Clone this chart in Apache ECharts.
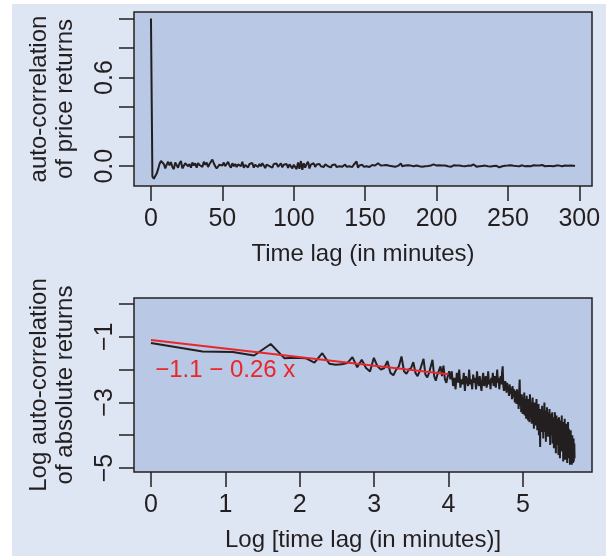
<!DOCTYPE html>
<html>
<head>
<meta charset="utf-8">
<script src="https://cdn.jsdelivr.net/npm/echarts@6/dist/echarts.min.js"></script>
<style>
  html, body { margin: 0; padding: 0; background: #fff; }
  #chart { width: 611px; height: 556px; }
</style>
</head>
<body>
<div id="chart"></div>
<script>
// top panel: auto-correlation of price returns, lag 0..297 (minutes)
var priceAcf = [
  1.0, -0.07, -0.085, -0.08, -0.05, -0.02, 0.015, 0.035, 0.04, 0.015,
  -0.015, 0.01, 0.03, 0.005, 0.028, -0.005, -0.02, 0.025, 0.03, -0.01,
  0.02, 0.035, -0.015, -0.025, 0.02, 0.03, 0.0, 0.015, -0.01, 0.025,
  0.005, 0.02, -0.01, 0.022, 0.008, 0.018, -0.005, 0.03, 0.01, 0.025,
  -0.005, 0.015, 0.028, 0.045, 0.02, 0.0, -0.015, -0.02, 0.01, 0.02,
  0.005, 0.025, 0.0, 0.015, 0.03, 0.005, -0.01, 0.02, 0.0, 0.015,
  -0.005, 0.012, 0.025, 0.0, 0.03, -0.01, 0.008, 0.02, -0.008, 0.015,
  0.005, 0.022, -0.01, 0.01, 0.018, -0.005, 0.015, 0.0, 0.02, 0.005,
  -0.012, 0.01, 0.02, 0.0, 0.012, -0.01, 0.015, 0.005, 0.018, -0.005,
  0.008, 0.02, -0.008, 0.01, 0.0, 0.015, -0.012, 0.012, 0.02, -0.015,
  0.01, 0.02, -0.02, 0.025, -0.018, 0.035, -0.025, 0.02, -0.01, 0.015,
  0.03, -0.015, 0.01, 0.0, 0.02, -0.005, 0.012, 0.005, 0.015, 0.0,
  0.01, -0.005, 0.012, 0.005, 0.0, 0.01, -0.008, 0.008, 0.003, 0.012,
  -0.005, 0.008, 0.0, 0.01, -0.003, 0.006, 0.012, -0.004, 0.005, 0.0,
  0.008, -0.006, 0.01, 0.004, 0.032, -0.01, 0.005, 0.0, 0.01, -0.004,
  0.006, 0.0, 0.01, -0.005, 0.004, 0.008, -0.004, 0.005, 0.01, 0.02,
  0.028, 0.005, -0.003, 0.006, 0.0, 0.008, -0.005, 0.003, 0.006, 0.0,
  0.004, -0.004, 0.006, 0.002, 0.012, 0.018, 0.0, -0.003, 0.005, 0.002,
  0.006, -0.002, 0.004, 0.008, 0.0, -0.004, 0.005, 0.003, 0.0, 0.006,
  -0.003, 0.004, 0.0, 0.006, 0.002, -0.004, 0.005, 0.0, 0.012, 0.016,
  0.004, -0.002, 0.006, 0.0, 0.004, -0.003, 0.005, 0.002, 0.0, 0.006,
  -0.004, 0.003, 0.006, -0.002, 0.004, 0.0, 0.005, -0.003, 0.002, 0.006,
  0.0, -0.004, 0.004, 0.01, 0.003, 0.008, 0.012, 0.002, -0.003, 0.005,
  0.0, 0.006, 0.002, -0.003, 0.004, 0.008, 0.0, 0.005, -0.002, 0.004,
  0.002, -0.004, 0.003, 0.0, -0.008, -0.01, 0.0, 0.006, 0.003, 0.0,
  0.004, 0.002, 0.006, 0.0, 0.003, 0.005, 0.001, 0.004, 0.0, 0.003,
  0.006, 0.002, -0.001, 0.004, 0.002, 0.005, 0.0, 0.003, 0.006, 0.001,
  0.004, 0.0, 0.005, 0.002, 0.008, 0.003, 0.0, 0.004, 0.002, 0.005,
  0.001, 0.004, 0.0, 0.003, 0.005, 0.001, 0.004, 0.002, 0.0, 0.003,
  0.005, 0.001, 0.003, 0.0, 0.004, 0.002, 0.003, 0.001
];

// bottom panel: log auto-correlation of absolute returns, lag 1..297
var absLogAcf = [
  -1.19, -1.45, -1.46, -1.57, -1.22, -1.65, -1.64, -1.65, -1.79, -1.5,
  -1.82, -1.85, -1.84, -1.8, -1.62, -1.93, -1.7, -1.95, -2.06, -1.64,
  -1.9, -2.0, -1.95, -1.74, -2.1, -2.17, -2.0, -1.9, -1.6, -2.05,
  -2.13, -2.0, -1.95, -1.77, -2.1, -2.2, -2.05, -2.0, -1.67, -2.15,
  -2.24, -2.1, -2.05, -1.7, -2.2, -2.34, -2.15, -2.1, -1.9, -2.2,
  -1.88, -2.3, -2.4, -2.2, -2.05,
  -2.3, -2.05, -2.5, -2.25, -2.6, -2.1, -2.4, -2.0, -2.55, -2.3,
  -2.45, -2.1, -2.65, -2.2, -2.35, -2.5, -2.0, -2.45, -2.3, -2.6,
  -2.15, -2.4, -2.25, -2.6, -2.05, -2.35, -2.5, -2.2, -2.45, -2.65,
  -2.3, -2.1, -2.5, -2.35, -2.2, -2.55, -2.4, -2.05, -2.45, -2.3,
  -2.6, -2.25, -2.4, -2.1, -2.5, -2.35, -2.2, -2.55, -2.3, -2.0,
  -2.4, -2.25, -2.6, -2.35, -2.2, -2.45, -2.1, -1.9, -2.5, -2.65,
  -2.6, -2.35, -2.5, -2.7, -2.4, -2.65, -2.5, -2.8, -2.45, -2.6,
  -2.75, -2.55, -2.9, -2.5, -2.7, -2.85, -2.6, -3.0, -2.65, -2.8,
  -3.05, -2.6, -2.9, -2.75, -3.2, -2.7, -2.3, -3.1, -2.8, -3.3,
  -2.75, -3.0, -3.35, -2.85, -3.1, -2.7, -3.4, -2.9, -3.15, -3.5,
  -2.8, -3.2, -3.0, -3.55, -2.9, -3.3, -3.6, -2.75, -3.2, -3.45,
  -3.0, -3.65, -3.1, -2.85, -3.5, -3.25, -3.8, -3.0, -3.4, -3.7,
  -3.1, -3.55, -2.9, -3.4, -3.85, -3.2, -3.6, -3.05, -4.0, -3.3,
  -3.5, -4.36, -3.2, -3.7, -3.4, -3.9, -3.1, -3.6, -3.35, -4.1,
  -3.3, -3.75, -3.0, -3.55, -3.9, -3.25, -4.2, -3.4, -3.7, -3.15,
  -3.85, -3.45, -4.05, -3.3, -3.65, -3.95, -3.2, -3.75, -4.3, -3.5,
  -3.8, -3.35, -4.0, -3.6, -3.3, -4.25, -3.7, -3.45, -3.9, -4.4,
  -3.55, -3.85, -3.3, -4.1, -3.6, -4.55, -3.75, -3.4, -4.0, -3.65,
  -4.3, -3.5, -3.9, -4.6, -3.7, -3.45, -4.15, -3.8, -4.7, -3.6,
  -4.0, -3.55, -4.35, -3.9, -3.4, -4.5, -3.75, -4.1, -3.6, -4.8,
  -3.85, -4.2, -3.7, -4.45, -3.5, -4.0, -4.75, -3.8, -4.3, -3.65,
  -4.55, -4.0, -3.75, -4.85, -3.9, -4.3, -3.6, -4.6, -4.1, -3.8,
  -4.7, -4.2, -3.9, -4.9, -4.05, -4.4, -3.85, -4.75, -4.25, -4.0,
  -4.9, -4.3, -4.0, -4.6, -4.15, -4.85, -4.35, -4.1, -4.8, -4.4,
  -4.25, -4.7
];

// fitted line endpoints  (log lag, value)
var fitLine = [[0, -1.1], [4, -2.14]];
var fitText = '\u22121.1 \u2212 0.26 x';

var topXTicks = [0, 50, 100, 150, 200, 250, 300];
var topYTicks = [0, 0.2, 0.4, 0.6, 0.8, 1.0];
var topYLabels = [0, 0.6];
var botXTicks = [0, 1, 2, 3, 4, 5];
var botYTicks = [0, -1, -2, -3, -4, -5];
var botYLabels = [-1, -3, -5];

var ink = '#231f20';
var font = '"Liberation Sans", Arial, sans-serif';

var topData = priceAcf.map(function (v, i) { return [i, v]; });
var botData = absLogAcf.map(function (v, i) { return [Math.log(i + 1), v]; });

function minus(v) {
  return String(v).replace('-', '\u2212');
}

function xAxisOpt(grid, min, max, ticks, name) {
  return {
    type: 'value', gridIndex: grid, min: min, max: max,
    axisLine: { show: false, onZero: false },
    splitLine: { show: false },
    axisTick: { show: true, customValues: ticks, length: 15, lineStyle: { color: ink, width: 1.5 } },
    axisLabel: { customValues: ticks, color: ink, fontSize: 25, fontFamily: font, margin: 21 },
    name: name, nameLocation: 'middle', nameGap: 56,
    nameTextStyle: { color: ink, fontSize: 24, fontFamily: font }
  };
}

function yAxisOpt(grid, min, max, ticks, labels, fmt, name) {
  return {
    type: 'value', gridIndex: grid, min: min, max: max,
    axisLine: { show: false, onZero: false },
    splitLine: { show: false },
    axisTick: { show: true, customValues: ticks, length: 15, lineStyle: { color: ink, width: 1.5 } },
    axisLabel: { customValues: labels, rotate: 90, formatter: fmt, color: ink, fontSize: 25, fontFamily: font, margin: 16 },
    name: name, nameLocation: 'middle', nameRotate: 90, nameGap: 56,
    nameTextStyle: { color: ink, fontSize: 24, lineHeight: 26, fontFamily: font }
  };
}

var chart = echarts.init(document.getElementById('chart'), null, { renderer: 'canvas' });
chart.setOption({
  animation: false,
  backgroundColor: '#ffffff',
  graphic: [{
    type: 'rect', z: -10,
    shape: { x: 12, y: 4, width: 594, height: 552 },
    style: { fill: '#dfe6f3' }
  }],
  grid: [
    { left: 134, top: 12, width: 458, height: 174, show: true, backgroundColor: '#b9c8e4', borderColor: ink, borderWidth: 1.5 },
    { left: 134, top: 298, width: 458, height: 174, show: true, backgroundColor: '#b9c8e4', borderColor: ink, borderWidth: 1.5 }
  ],
  xAxis: [
    xAxisOpt(0, -11.88, 308.88, topXTicks, 'Time lag (in minutes)'),
    xAxisOpt(1, -0.228, 5.928, botXTicks, 'Log [time lag (in minutes)]')
  ],
  yAxis: [
    yAxisOpt(0, -0.134, 1.044, topYTicks, topYLabels, function (v) { return v.toFixed(1); },
      'auto-correlation\nof price returns'),
    yAxisOpt(1, -5.122, 0.184, botYTicks, botYLabels, function (v) { return minus(v); },
      'Log auto-correlation\nof absolute returns')
  ],
  series: [
    {
      type: 'line', xAxisIndex: 0, yAxisIndex: 0, data: topData,
      showSymbol: false, lineStyle: { color: ink, width: 2 }
    },
    {
      type: 'line', xAxisIndex: 1, yAxisIndex: 1, data: botData,
      showSymbol: false, lineStyle: { color: ink, width: 2 }
    },
    {
      type: 'line', xAxisIndex: 1, yAxisIndex: 1, data: fitLine,
      showSymbol: false, lineStyle: { color: '#e8262b', width: 2 },
      markPoint: {
        symbol: 'rect', symbolSize: 1, itemStyle: { color: 'rgba(0,0,0,0)' },
        data: [{ coord: [0.05, -2.01] }],
        label: {
          show: true, position: 'right', distance: 0, formatter: fitText,
          color: '#e8262b', fontSize: 24, fontFamily: font
        }
      }
    }
  ]
});
</script>
</body>
</html>
